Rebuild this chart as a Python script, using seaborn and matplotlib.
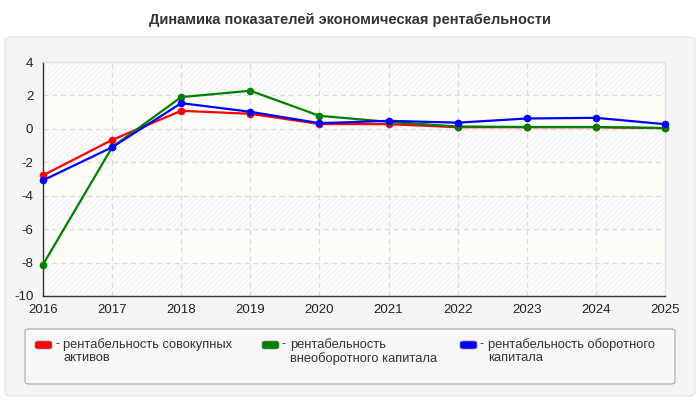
import numpy as np
import pandas as pd
import seaborn as sns
import matplotlib.pyplot as plt
from matplotlib.patches import FancyBboxPatch

years = [2016, 2017, 2018, 2019, 2020, 2021, 2022, 2023, 2024, 2025]
series_names = ['рентабельность совокупных\nактивов',
                'рентабельность\nвнеоборотного капитала',
                'рентабельность оборотного\nкапитала']
red_vals = [-2.78, -0.66, 1.08, 0.90, 0.29, 0.28, 0.10, 0.10, 0.10, 0.04]
green_vals = [-8.12, -1.10, 1.90, 2.28, 0.78, 0.42, 0.14, 0.11, 0.11, 0.05]
blue_vals = [-3.08, -1.10, 1.54, 1.02, 0.34, 0.48, 0.37, 0.62, 0.66, 0.28]
colors = ['#ff0000', '#008000', '#0000ff']

df = pd.DataFrame({
    'year': years * 3,
    'value': red_vals + green_vals + blue_vals,
    'series': [series_names[0]] * 10 + [series_names[1]] * 10 + [series_names[2]] * 10,
})

sns.set_style('white')
plt.rcParams['font.family'] = ['Liberation Sans', 'DejaVu Sans']
plt.rcParams['axes.unicode_minus'] = False
plt.rcParams['hatch.linewidth'] = 0.6

fig = plt.figure(figsize=(7, 4), dpi=100)
fig.patch.set_facecolor('white')

# outer gray panel
panel = FancyBboxPatch((5 / 700, 4 / 400), 690 / 700, 359 / 400,
                       boxstyle='round,pad=0,rounding_size=0.01',
                       transform=fig.transFigure, facecolor='#f4f4f4',
                       edgecolor='#e6e6e6', linewidth=1, zorder=0)
fig.patches.append(panel)

fig.text(0.5, 1 - 20 / 400, 'Динамика показателей экономическая рентабельности',
         ha='center', va='center', fontsize=10.5, fontweight='bold', color='#333333')

ax = fig.add_axes([43 / 700, 1 - 296 / 400, 622 / 700, 234 / 400])
ax.set_zorder(2)
ax.set_facecolor('#fdfdf7')

# alternating hatched bands
for lo in [-10, -6, -2, 2]:
    ax.axhspan(lo, lo + 2, facecolor='#fcfcfc', edgecolor='#f0f0f0',
               hatch='//////', linewidth=0, zorder=0)

sns.lineplot(data=df, x='year', y='value', hue='series', palette=colors,
             marker='o', markersize=5.5, markeredgewidth=0, linewidth=1.6,
             legend=False, ax=ax, zorder=3)
for ln in ax.lines:
    ln.set_clip_on(False)

ax.set_xlim(2016, 2025)
ax.set_ylim(-10, 4)
ax.set_xticks(years)
ax.set_yticks(range(-10, 5, 2))
ax.set_xlabel('')
ax.set_ylabel('')
ax.grid(True, color='#dcdcdc', linestyle=(0, (4, 3)), linewidth=0.9, zorder=1)
ax.set_axisbelow(True)
for s in ['top', 'right']:
    ax.spines[s].set_color('#e0e0e0')
    ax.spines[s].set_linewidth(0.8)
for s in ['left', 'bottom']:
    ax.spines[s].set_color('#333333')
    ax.spines[s].set_linewidth(1)
ax.tick_params(axis='both', which='both', direction='out', length=4, width=1,
               color='#333333', labelsize=9.5, labelcolor='#222222', pad=2)
ax.tick_params(axis='y', pad=3)

# legend box
lbox = FancyBboxPatch((25 / 700, 1 - 384 / 400), 650 / 700, 55 / 400,
                      boxstyle='round,pad=0,rounding_size=0.006',
                      transform=fig.transFigure, facecolor='#f7f7f7',
                      edgecolor='#b0b0b0', linewidth=0.9, zorder=1)
fig.patches.append(lbox)

sw_x = [35, 262, 460]
for i, name in enumerate(series_names):
    sw = FancyBboxPatch((sw_x[i] / 700, 1 - 349 / 400), 17 / 700, 8 / 400,
                        boxstyle='round,pad=0,rounding_size=0.005',
                        transform=fig.transFigure, facecolor=colors[i],
                        edgecolor='#888888', linewidth=0.5, zorder=2)
    fig.patches.append(sw)
    fig.text((sw_x[i] + 20) / 700, 1 - 338 / 400, '-', ha='left', va='top',
             fontsize=9, color='#333333')
    fig.text((sw_x[i] + 28) / 700, 1 - 338 / 400, name, ha='left', va='top',
             fontsize=9.3, color='#333333', linespacing=1.1)

fig.savefig('out.png', dpi=100)
